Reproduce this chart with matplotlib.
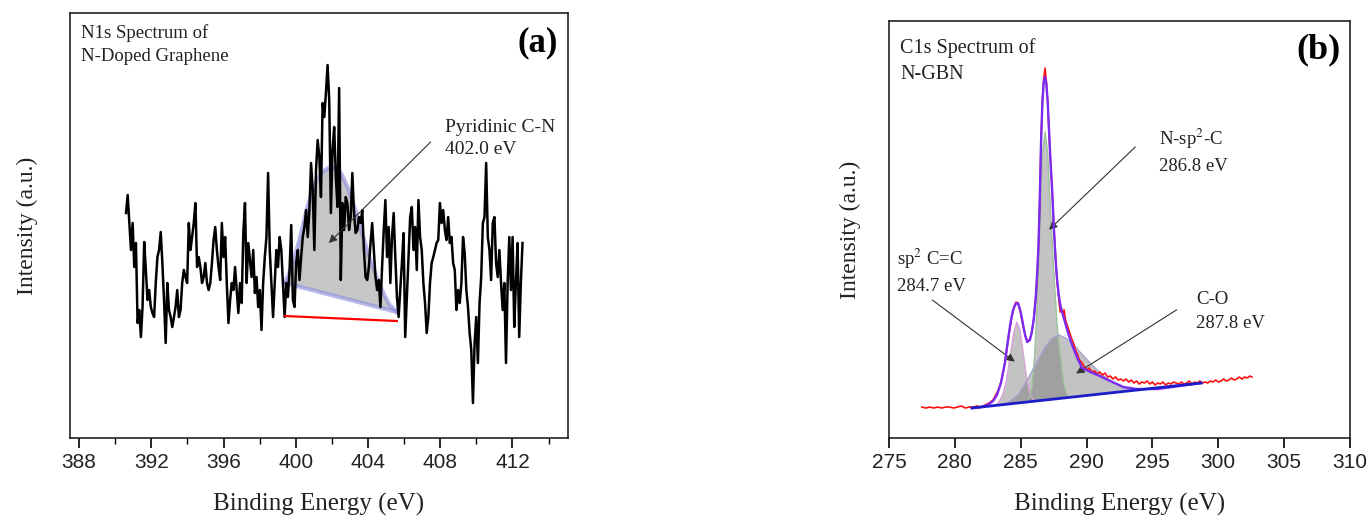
import numpy as np
import matplotlib
matplotlib.use('Agg')
import matplotlib.pyplot as plt
from matplotlib.ticker import MultipleLocator

plt.rcParams['font.family'] = 'Liberation Serif'
plt.rcParams['mathtext.fontset'] = 'stix'

# ---- (a) N1s spectrum, raw counts (arb.) on an even energy grid ----
n1s_start, n1s_end = 390.6, 412.56
n1s_counts = [
    225, 243, 215, 188, 215, 171, 195, 115, 128, 101, 131, 196, 168, 138, 148, 131, 125, 121, 155, 181,
    188, 206, 175, 138, 95, 155, 128, 121, 111, 121, 131, 148, 121, 128, 155, 168, 161, 155, 215, 188,
    201, 215, 235, 171, 181, 171, 155, 161, 175, 155, 148, 155, 175, 198, 211, 188, 171, 158, 215, 181,
    201, 155, 115, 138, 155, 148, 171, 148, 125, 155, 135, 205, 235, 155, 195, 178, 161, 188, 145, 161,
    131, 148, 108, 155, 181, 201, 265, 188, 155, 121, 155, 188, 171, 201, 188, 155, 121, 155, 141, 168,
    213, 138, 131, 175, 188, 158, 181, 201, 211, 228, 201, 228, 275, 248, 188, 268, 298, 281, 241, 335,
    321, 345, 373, 338, 225, 288, 311, 261, 231, 350, 158, 235, 208, 241, 235, 208, 221, 265, 225, 205,
    208, 221, 215, 228, 188, 161, 158, 171, 195, 215, 188, 161, 148, 158, 131, 171, 208, 238, 181, 211,
    155, 201, 225, 181, 141, 121, 148, 175, 205, 101, 141, 181, 221, 231, 188, 211, 168, 238, 201, 188,
    155, 135, 105, 121, 155, 175, 181, 188, 195, 198, 235, 215, 228, 208, 198, 221, 195, 201, 175, 168,
    128, 148, 135, 155, 201, 185, 148, 131, 105, 88, 35, 95, 121, 75, 135, 161, 215, 221, 275, 201,
    188, 158, 215, 221, 175, 161, 188, 155, 128, 155, 75, 155, 201, 148, 201, 111, 155, 195, 101, 155,
    195,
]
# fitted pyridinic peak and its baseline
pyr_x = [399.4, 399.8, 400.2, 400.6, 401.0, 401.4, 401.8, 402.1, 402.5, 402.9,
         403.3, 403.7, 404.1, 404.5, 404.9, 405.2, 405.6]
pyr_y = [155, 172, 198, 228, 252, 265, 270, 271, 265, 250,
         228, 203, 180, 160, 143, 133, 126]
pyr_base_x = [399.4, 405.6]
pyr_base_y = [155, 126]
red_base_x = [399.4, 405.6]
red_base_y = [122, 117]

# ---- (b) C1s spectrum ----
c1s_x = [277.5, 277.8, 278.1, 278.4, 278.7, 279.0, 279.3, 279.6, 279.9, 280.2, 280.5, 280.8, 281.1, 281.4,
         281.7, 282.0, 282.3, 282.6, 282.9, 283.1, 283.3, 283.5, 283.7, 283.9, 284.1, 284.3, 284.5, 284.65,
         284.8, 284.95, 285.1, 285.25, 285.4, 285.55, 285.7, 285.85, 286.0, 286.15, 286.25, 286.35, 286.45,
         286.55, 286.65, 286.75, 286.85, 286.95, 287.05, 287.15, 287.25, 287.38, 287.5, 287.63, 287.75, 287.9,
         288.0, 288.1, 288.2, 288.3, 288.4, 288.55, 288.7, 288.85, 289.0, 289.15, 289.3, 289.45, 289.6, 289.8,
         290.0, 290.2, 290.4, 290.6, 290.8, 291.0, 291.2, 291.4, 291.6, 291.8, 292.0, 292.2, 292.4, 292.6,
         292.8, 293.0, 293.2, 293.4, 293.6, 293.8, 294.0, 294.2, 294.4, 294.6, 294.8, 295.0, 295.2, 295.4,
         295.6, 295.8, 296.0, 296.2, 296.4, 296.6, 296.8, 297.0, 297.2, 297.4, 297.6, 297.8, 298.0, 298.2,
         298.4, 298.6, 298.8, 299.0, 299.2, 299.4, 299.6, 299.8, 300.0, 300.2, 300.4, 300.6, 300.8, 301.0,
         301.2, 301.4, 301.6, 301.8, 302.0, 302.2, 302.4, 302.55]
c1s_y = [31, 30, 31, 30, 31, 30, 31, 31, 30, 31, 32, 30, 31, 31,
         32, 31, 33, 35, 38, 43, 48, 56, 67, 84, 102, 120, 131, 136,
         134, 128, 118, 108, 100, 97, 99, 107, 119, 140, 162, 190, 238,
         300, 338, 360, 370, 356, 336, 305, 280, 250, 215, 185, 158, 138,
         126, 130, 124, 128, 118, 112, 106, 100, 95, 88, 84, 78, 76, 72,
         68, 70, 66, 67, 64, 66, 63, 65, 61, 62, 59, 61, 58, 59,
         57, 59, 56, 58, 55, 57, 54, 56, 55, 57, 54, 56, 53, 55,
         54, 56, 53, 55, 54, 56, 55, 54, 56, 54, 55, 57, 54, 56,
         55, 57, 55, 56, 55, 57, 56, 58, 56, 57, 59, 57, 58, 60,
         58, 59, 61, 59, 61, 60, 62, 61]

env_x = [281.3, 282.0, 282.5, 282.9, 283.2, 283.5, 283.8, 284.0, 284.2, 284.4, 284.6, 284.8, 285.0, 285.2,
         285.35, 285.5, 285.7, 285.85, 286.0, 286.15, 286.25, 286.35, 286.45, 286.55, 286.65, 286.75, 286.85,
         286.95, 287.05, 287.15, 287.25, 287.38, 287.5, 287.63, 287.75, 287.89, 288.05, 288.27, 288.6, 288.9,
         289.3, 289.66, 290.3, 291.0, 291.8, 292.8, 293.8, 295.4, 296.5, 297.6, 298.7]
env_y = [30, 31, 33, 37, 43, 55, 75, 95, 113, 127, 134, 135, 126, 112,
         102, 96, 98, 106, 120, 142, 165, 192, 240, 298, 336, 356, 361,
         354, 336, 308, 280, 250, 215, 183, 160, 143, 130, 120, 105, 93,
         80, 70, 66, 62, 57, 51, 49, 49, 51, 53, 55]

bg_x = [281.3, 298.7]
bg_y = [30, 55]

sp2_x = [283.2, 283.6, 283.9, 284.2, 284.45, 284.7, 284.95, 285.2, 285.45, 285.7, 286.0]
sp2_y = [33, 42, 56, 82, 104, 116, 108, 84, 60, 44, 37]

nsp2_x = [285.6, 285.85, 286.06, 286.2, 286.36, 286.5, 286.65, 286.85, 287.05, 287.25,
          287.5, 287.75, 288.0, 288.3, 288.6]
nsp2_y = [37, 50, 83, 120, 170, 230, 285, 306, 285, 230,
          170, 115, 83, 52, 41]

co_x = [283.6, 284.2, 284.8, 285.5, 286.2, 286.8, 287.4, 287.9, 288.4, 289.0,
        289.5, 290.2, 290.8, 291.5, 292.1, 292.8, 293.5]
co_y = [33, 37, 43, 58, 75, 90, 100, 103, 100, 94,
        86, 76, 68, 60, 55, 50, 48]

txt = '#222222'
fig = plt.figure(figsize=(13.71, 5.23), dpi=100)
ax1 = fig.add_axes([0.0511, 0.1625, 0.3632, 0.8126])
ax2 = fig.add_axes([0.6484, 0.1625, 0.3363, 0.7973])

# ---------------- panel (a) ----------------
ea = np.linspace(n1s_start, n1s_end, len(n1s_counts))
ax1.fill(pyr_x + pyr_base_x[::-1], pyr_y + pyr_base_y[::-1], color='#c6c6c6', lw=0, zorder=1)
ax1.plot(pyr_x, pyr_y, color='#8a8ae0', lw=3, alpha=0.6, zorder=2)
ax1.plot(pyr_base_x, pyr_base_y, color='#8a8ae0', lw=3, alpha=0.6, zorder=2)
ax1.plot(ea, n1s_counts, color='black', lw=1.8, zorder=3)
ax1.plot(red_base_x, red_base_y, color='red', lw=1.6, zorder=4)

ax1.annotate('', xy=(401.72, 193), xytext=(407.58, 298),
             arrowprops=dict(arrowstyle='-|>', color='#333333', lw=0.8, mutation_scale=12))
ax1.text(0.753, 0.704, 'Pyridinic C-N\n402.0 eV', transform=ax1.transAxes, fontsize=14,
         ha='left', va='center', linespacing=1.4, color=txt)
ax1.text(0.022, 0.926, 'N1s Spectrum of\nN-Doped Graphene', transform=ax1.transAxes, fontsize=13.5,
         ha='left', va='center', linespacing=1.45, color=txt)
ax1.text(0.94, 0.929, '(a)', transform=ax1.transAxes, fontsize=25, fontweight='bold',
         ha='center', va='center', color='black')

ax1.set_xlim(387.5, 415.08)
ax1.set_ylim(0, 425)
ax1.set_xticks(range(388, 413, 4))
ax1.xaxis.set_minor_locator(MultipleLocator(2))

# ---------------- panel (b) ----------------
comp_fill = '#707070'
ax2.fill(sp2_x, sp2_y, color=comp_fill, alpha=0.42, lw=0, zorder=1)
ax2.fill(nsp2_x, nsp2_y, color=comp_fill, alpha=0.42, lw=0, zorder=1)
ax2.fill(co_x, co_y, color=comp_fill, alpha=0.42, lw=0, zorder=1)
ax2.plot(sp2_x, sp2_y, color='#d9a3d9', lw=1, zorder=2)
ax2.plot(nsp2_x, nsp2_y, color='#9cc49c', lw=1, zorder=2)
ax2.plot(co_x, co_y, color='#a5a5d0', lw=1, zorder=2)
ax2.plot(c1s_x, c1s_y, color='#ff1010', lw=1.2, zorder=3)
ax2.plot(env_x, env_y, color='#7b2cf0', lw=1.7, zorder=4)
ax2.plot(bg_x, bg_y, color='#1c1cc8', lw=2, zorder=5)

arrow = dict(arrowstyle='-|>', color='#333333', lw=0.8, mutation_scale=12)
ax2.annotate('', xy=(287.0, 206.3), xytext=(293.85, 293), arrowprops=arrow)
ax2.annotate('', xy=(284.72, 74.7), xytext=(278.12, 139.7), arrowprops=arrow)
ax2.annotate('', xy=(289.03, 63), xytext=(297.02, 129.7), arrowprops=arrow)
ax2.text(0.586, 0.689, 'N-sp$^2$-C\n286.8 eV', transform=ax2.transAxes, fontsize=13.5,
         ha='left', va='center', linespacing=1.5, color=txt)
ax2.text(0.018, 0.401, 'sp$^2$ C=C\n284.7 eV', transform=ax2.transAxes, fontsize=13.5,
         ha='left', va='center', linespacing=1.5, color=txt)
ax2.text(0.667, 0.303, 'C-O\n287.8 eV', transform=ax2.transAxes, fontsize=13.5,
         ha='left', va='center', linespacing=1.5, color=txt)
ax2.text(0.024, 0.905, 'C1s Spectrum of\nN-GBN', transform=ax2.transAxes, fontsize=14.5,
         ha='left', va='center', linespacing=1.5, color=txt)
ax2.text(0.931, 0.930, '(b)', transform=ax2.transAxes, fontsize=26, fontweight='bold',
         ha='center', va='center', color='black')

ax2.set_xlim(275, 310)
ax2.set_ylim(0, 417)
ax2.set_xticks(range(275, 311, 5))

for ax, xl in ((ax1, -0.064), (ax2, -0.061)):
    ax.set_yticks([])
    for s in ax.spines.values():
        s.set_linewidth(1.2)
        s.set_color('#222222')
    ax.tick_params(axis='x', which='major', direction='out', length=7, width=1.2, pad=3.5,
                   labelsize=15, labelfontfamily='Liberation Sans', labelcolor=txt)
    ax.tick_params(axis='x', which='minor', direction='out', length=4, width=1.0)
    ax.set_xlabel('Binding Energy (eV)', fontsize=18, color=txt)
    ax.set_ylabel('Intensity (a.u.)', fontsize=17, color=txt)
    ax.yaxis.set_label_coords(xl, 0.5)
ax1.xaxis.set_label_coords(0.5, -0.129)
ax2.xaxis.set_label_coords(0.5, -0.132)

fig.savefig('out.png', dpi=100)
